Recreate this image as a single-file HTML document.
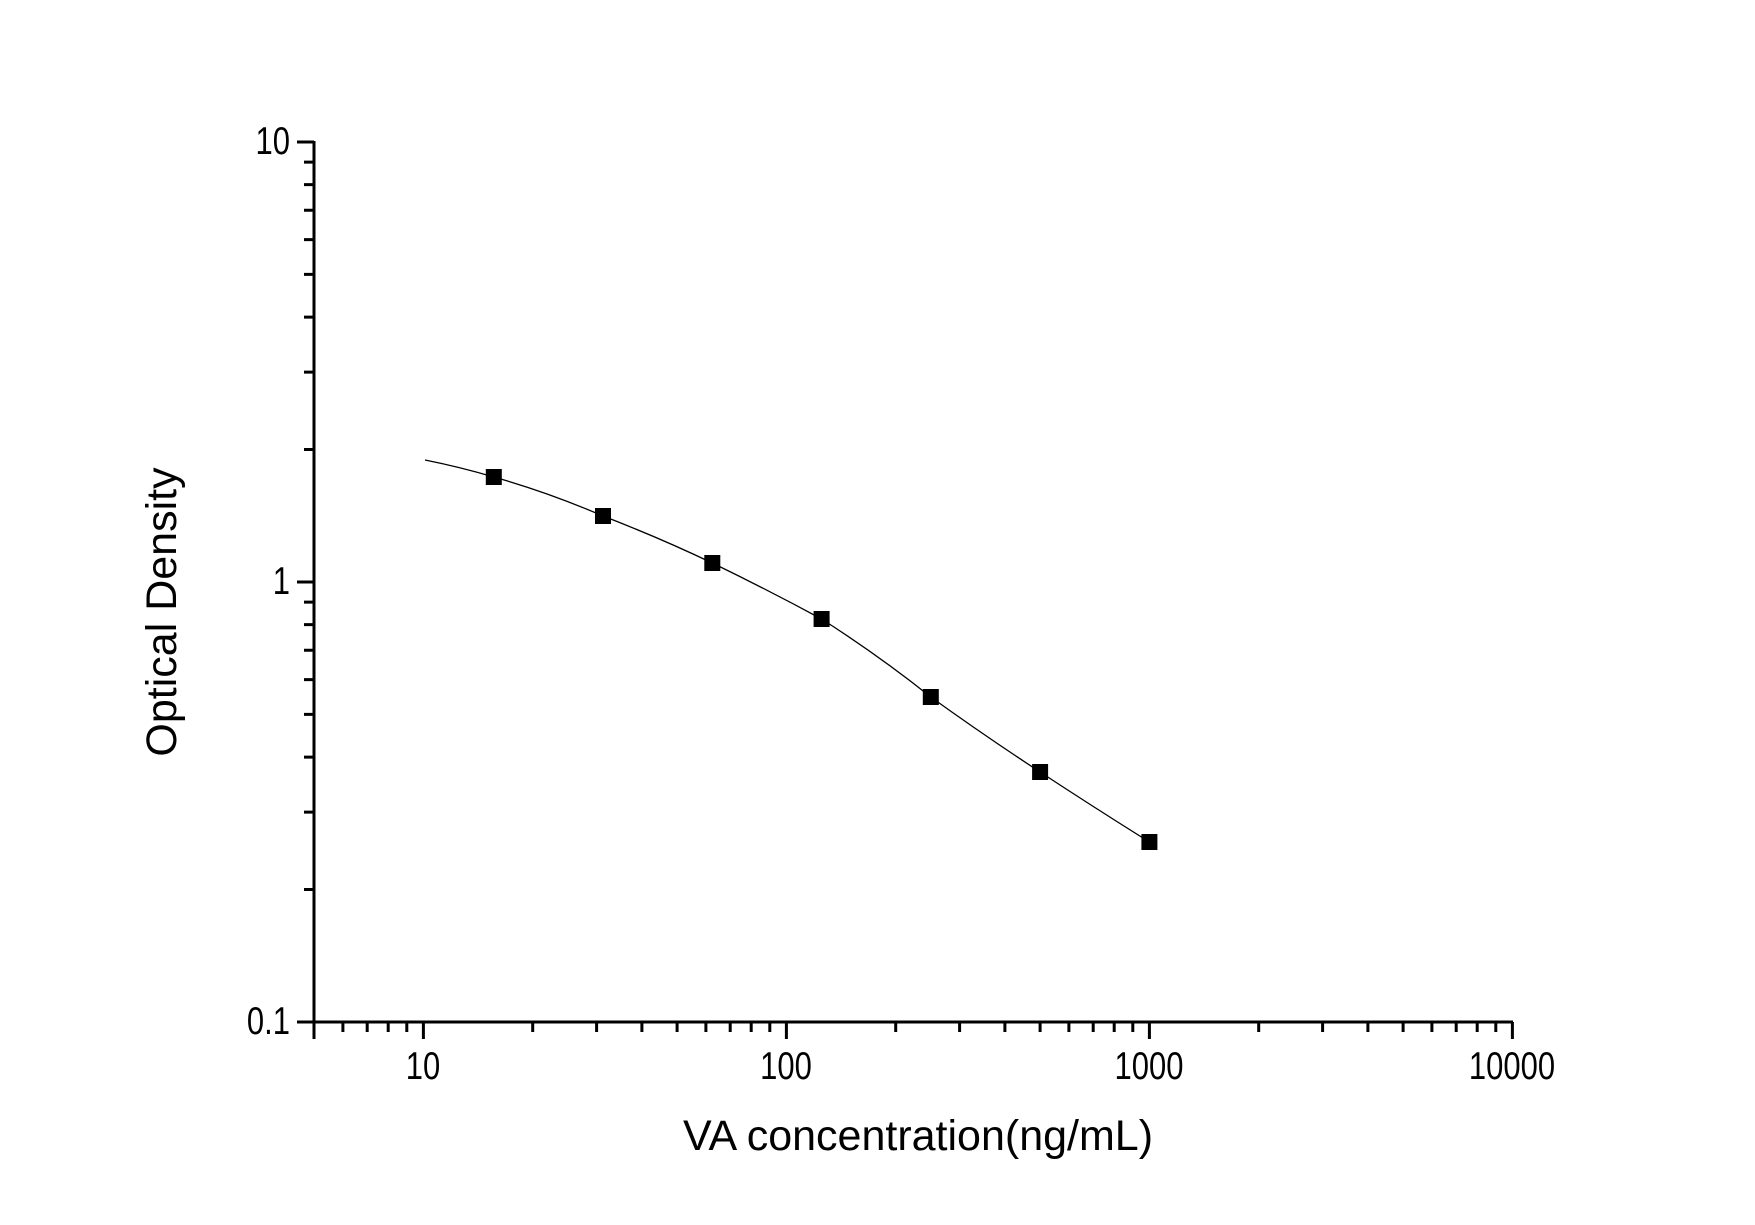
<!DOCTYPE html>
<html><head><style>body{margin:0;background:#fff}svg{display:block}text{font-family:"Liberation Sans",Arial,sans-serif;fill:#000}</style></head>
<body>
<svg width="1755" height="1225" xmlns="http://www.w3.org/2000/svg">
<line x1="314" y1="141" x2="314" y2="1023" stroke="#000" stroke-width="3"/>
<line x1="298" y1="1022" x2="1513" y2="1022" stroke="#000" stroke-width="3"/>
<path stroke="#000" stroke-width="3" fill="none" d="M297 1022H314M297 582H314M297 142H314
M304 889.5H314M304 812.1H314M304 757.1H314M304 714.4H314M304 679.6H314M304 650.2H314M304 624.6H314M304 602.1H314
M304 449.5H314M304 372.1H314M304 317.1H314M304 274.4H314M304 239.6H314M304 210.2H314M304 184.6H314M304 162.1H314
M314 1022V1039M423.4 1022V1039M786.4 1022V1039M1149.4 1022V1039M1512.4 1022V1039
M342.9 1022V1032M367.2 1022V1032M388.2 1022V1032M406.8 1022V1032
M532.7 1022V1032M596.6 1022V1032M641.9 1022V1032M677.1 1022V1032M705.9 1022V1032M730.2 1022V1032M751.2 1022V1032M769.8 1022V1032
M895.7 1022V1032M959.6 1022V1032M1004.9 1022V1032M1040.1 1022V1032M1068.9 1022V1032M1093.2 1022V1032M1114.2 1022V1032M1132.8 1022V1032
M1258.7 1022V1032M1322.6 1022V1032M1367.9 1022V1032M1403.1 1022V1032M1431.9 1022V1032M1456.2 1022V1032M1477.2 1022V1032M1495.8 1022V1032"/>
<path stroke="#000" stroke-width="1.3" fill="none" d="M425 460 Q460 467 493.8 477 Q550 493 603 516 Q660 538 712.3 563 Q768 590 821.6 619 Q878 655 930.8 697 Q985 736 1040.1 772 Q1095 808 1149.4 842"/>
<g fill="#000">
<rect x="485.8" y="469" width="16" height="16"/>
<rect x="595" y="508" width="16" height="16"/>
<rect x="704.3" y="555" width="16" height="16"/>
<rect x="813.6" y="611" width="16" height="16"/>
<rect x="922.8" y="689" width="16" height="16"/>
<rect x="1032.1" y="764" width="16" height="16"/>
<rect x="1141.4" y="834" width="16" height="16"/>
</g>
<g font-size="31" text-anchor="middle">
<text transform="translate(423,1079) scale(1,1.25)">10</text>
<text transform="translate(786,1079) scale(1,1.25)">100</text>
<text transform="translate(1149,1079) scale(1,1.25)">1000</text>
<text transform="translate(1512,1079) scale(1,1.25)">10000</text>
</g>
<g font-size="31" text-anchor="end">
<text transform="translate(290,154) scale(1,1.25)">10</text>
<text transform="translate(290,594) scale(1,1.25)">1</text>
<text transform="translate(290,1034) scale(1,1.25)">0.1</text>
</g>
<text x="918" y="1150" font-size="43" text-anchor="middle">VA concentration(ng/mL)</text>
<text transform="translate(176,612) rotate(-90)" font-size="43" text-anchor="middle">Optical Density</text>
</svg>
</body></html>
